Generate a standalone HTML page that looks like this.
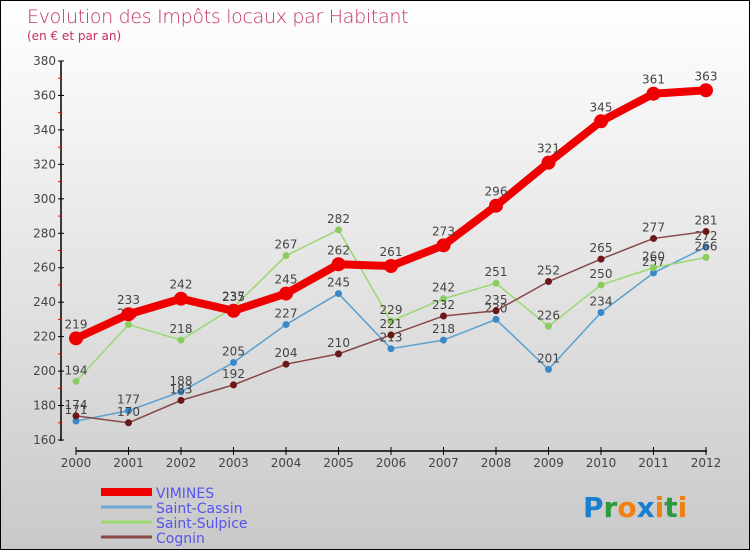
<!DOCTYPE html>
<html><head><meta charset="utf-8"><style>
body{margin:0}
#wrap{width:748px;height:548px;border:1px solid #000;background:linear-gradient(#fff,#c9c9c9);position:relative;overflow:hidden;font-family:"DejaVu Sans","Liberation Sans",sans-serif}
svg text{font-family:"DejaVu Sans","Liberation Sans",sans-serif}
</style></head><body>
<div id="wrap">
<svg id="c" width="748" height="548">
<text x="26" y="22" font-size="19" fill="#c0325e" style="font-weight:200;letter-spacing:-0.3px">Evolution des Impôts locaux par Habitant</text>
<text x="26" y="39" font-size="12" fill="#c0325e">(en € et par an)</text>
<g id="axes"></g><g id="series"></g><g id="legend"></g>
<text x="582" y="516" font-size="28" font-weight="bold"><tspan fill="#1a7fd0">P</tspan><tspan fill="#2a9a3a">r</tspan><tspan fill="#f08010">o</tspan><tspan fill="#1a7fd0">x</tspan><tspan fill="#f08010">i</tspan><tspan fill="#2a9a3a">t</tspan><tspan fill="#f08010">i</tspan></text>
</svg></div>
<script>
const years=["2000","2001","2002","2003","2004","2005","2006","2007","2008","2009","2010","2011","2012"];
const yTicks=[160,180,200,220,240,260,280,300,320,340,360,380];
const vimines=[219,233,242,235,245,262,261,273,296,321,345,361,363];
const saintCassin=[171,177,188,205,227,245,213,218,230,201,234,257,272];
const saintSulpice=[194,227,218,237,267,282,229,242,251,226,250,260,266];
const cognin=[174,170,183,192,204,210,221,232,235,252,265,277,281];
const NS="http://www.w3.org/2000/svg";
function X(i){return 75+i*(705-75)/(years.length-1);}
function Y(v){return 439-(v-160)*(439-60)/(380-160);}
function mk(t,a,p){const e=document.createElementNS(NS,t);for(const k in a)e.setAttribute(k,a[k]);p.appendChild(e);return e;}
const ax=document.getElementById('axes');
let l=mk('line',{x1:60,y1:60,x2:60,y2:440,stroke:'#000','stroke-width':1.5},ax);


l=mk('line',{x1:75,y1:450,x2:706,y2:450,stroke:'#000','stroke-width':1.5},ax);


yTicks.forEach((v,i)=>{
 mk('line',{x1:57,y1:Y(v),x2:63,y2:Y(v),stroke:'#000'},ax);
 if(i<yTicks.length-1)mk('line',{x1:57,y1:Y(v+10),x2:60,y2:Y(v+10),stroke:'#f00'},ax);
 const t=mk('text',{x:55,y:Y(v)+4,'text-anchor':'end','font-size':12,fill:'#444'},ax);t.textContent=v;
 
 
});
years.forEach((y,i)=>{
 mk('line',{x1:X(i),y1:446,x2:X(i),y2:454,stroke:'#000'},ax);
 const t=mk('text',{x:X(i),y:466,'text-anchor':'middle','font-size':12,fill:'#444'},ax);t.textContent=y;
 
 
});
const S=[
 {n:'saint-cassin',d:saintCassin,c:'#5aa0d0',dot:'#3a88c8',w:1.5,r:3.5},
 {n:'saint-sulpice',d:saintSulpice,c:'#9ad870',dot:'#8acc60',w:1.5,r:3.5},
 {n:'cognin',d:cognin,c:'#884848',dot:'#6a1818',w:1.5,r:3.5},
 {n:'vimines',d:vimines,c:'#ee0000',dot:'#ee0000',w:8,r:7}];
const sg=document.getElementById('series');
S.forEach(s=>{
 const g=mk('g',{},sg);
 
 
 const p=mk('polyline',{points:s.d.map((v,i)=>X(i)+','+Y(v)).join(' '),fill:'none',stroke:s.c,'stroke-width':s.w,'stroke-linejoin':'round'},g);
 
 
 s.d.forEach((v,i)=>{
  const c=mk('circle',{cx:X(i),cy:Y(v),r:s.r,fill:s.dot},g);
  
  
  const t=mk('text',{x:X(i),y:Y(v)-(s.w>2?10:7),'text-anchor':'middle','font-size':12,fill:'#444'},g);t.textContent=v;
  
  
 });
});
const lg=document.getElementById('legend');
const L=[['VIMINES','#ee0000',8],['Saint-Cassin','#6aa8d8',3],['Saint-Sulpice','#9ad870',3],['Cognin','#884848',3]];
L.forEach((e,i)=>{
 const y=491+i*15;
 const ln=mk('line',{x1:100,y1:y,x2:151,y2:y,stroke:e[1],'stroke-width':e[2]},lg);
 
 
 const t=mk('text',{x:155,y:y+6,'font-size':14,fill:'#5555ee'},lg);t.textContent=e[0];
 
 
});
</script></body></html>
